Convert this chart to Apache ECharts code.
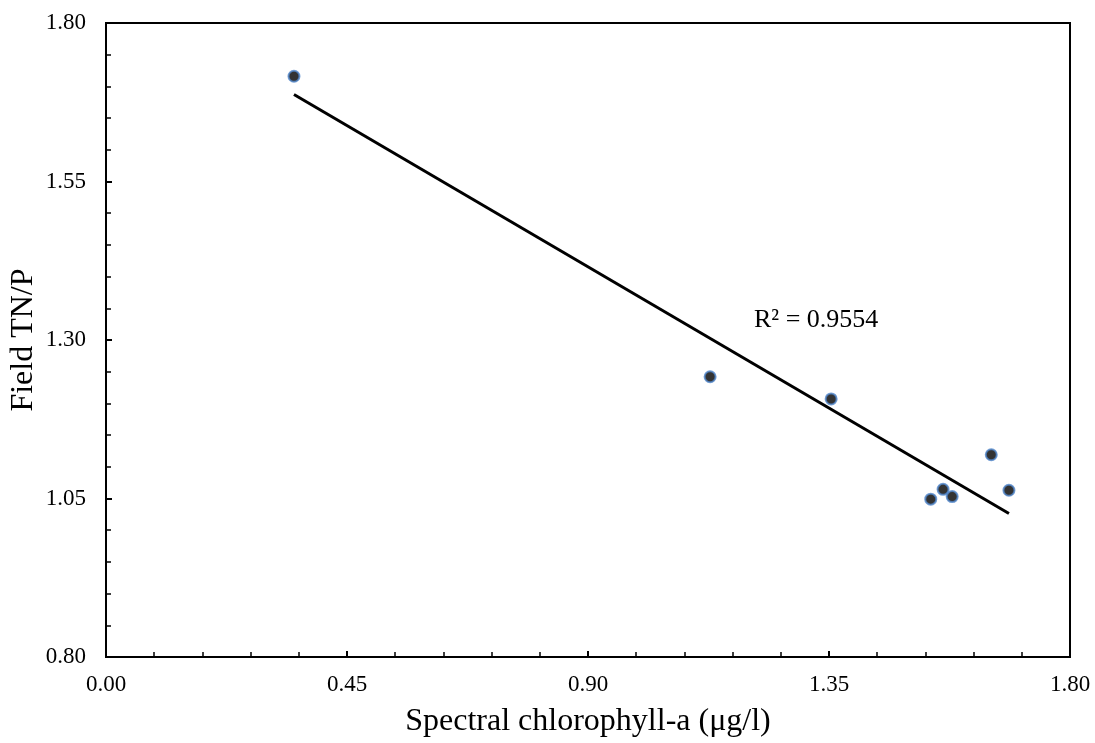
<!DOCTYPE html>
<html>
<head>
<meta charset="utf-8">
<script src="https://cdn.jsdelivr.net/npm/echarts@6/dist/echarts.min.js"></script>
<style>
  html, body { margin: 0; padding: 0; background: #fff; }
  #chart { width: 1095px; height: 743px; }
</style>
</head>
<body>
<div id="chart"></div>
<script>
// Spectral chlorophyll-a (µg/l) against field TN/P
const chlorophyll = [0.351, 1.128, 1.354, 1.540, 1.563, 1.580, 1.653, 1.686];
const fieldTNP    = [1.716, 1.242, 1.207, 1.049, 1.0645, 1.053, 1.119, 1.063];
const rSquaredText = 'R² = 0.9554';

// least-squares trend line through the samples
const n = chlorophyll.length;
const mx = chlorophyll.reduce((a, b) => a + b, 0) / n;
const my = fieldTNP.reduce((a, b) => a + b, 0) / n;
let sxy = 0, sxx = 0;
for (let i = 0; i < n; i++) {
  sxy += (chlorophyll[i] - mx) * (fieldTNP[i] - my);
  sxx += (chlorophyll[i] - mx) ** 2;
}
const slope = sxy / sxx;
const intercept = my - slope * mx;
const xMin = Math.min(...chlorophyll), xMax = Math.max(...chlorophyll);
const trend = [[xMin, intercept + slope * xMin], [xMax, intercept + slope * xMax]];

const font = 'Liberation Serif';
const chart = echarts.init(document.getElementById('chart'));
chart.setOption({
  animation: false,
  backgroundColor: '#fff',
  grid: {
    left: 106, top: 23, right: 25, bottom: 86,
    outerBoundsMode: 'none', containLabel: false,
    show: true, borderColor: '#000', borderWidth: 2, backgroundColor: 'transparent'
  },
  xAxis: {
    type: 'value', min: 0, max: 1.8, interval: 0.45,
    name: 'Spectral chlorophyll-a (μg/l)', nameLocation: 'middle', nameGap: 49,
    nameMoveOverlap: false,
    nameTextStyle: { fontFamily: font, fontSize: 32, color: '#000' },
    axisLine: { show: true, lineStyle: { color: '#000', width: 2 } },
    axisTick: { show: true, inside: true, length: 6, lineStyle: { color: '#000', width: 2 } },
    minorTick: { show: true, splitNumber: 5, length: 5, lineStyle: { color: '#000', width: 1.5 } },
    splitLine: { show: false },
    axisLabel: { fontFamily: font, fontSize: 23, color: '#000', margin: 16,
      formatter: v => v.toFixed(2) }
  },
  yAxis: {
    type: 'value', min: 0.8, max: 1.8, interval: 0.25,
    name: 'Field TN/P', nameLocation: 'middle', nameGap: 66,
    nameMoveOverlap: false,
    nameTextStyle: { fontFamily: font, fontSize: 32, color: '#000' },
    axisLine: { show: true, lineStyle: { color: '#000', width: 2 } },
    axisTick: { show: true, inside: true, length: 6, lineStyle: { color: '#000', width: 2 } },
    minorTick: { show: true, splitNumber: 5, length: 5, lineStyle: { color: '#000', width: 1.5 } },
    splitLine: { show: false },
    axisLabel: { fontFamily: font, fontSize: 23, color: '#000', margin: 20,
      formatter: v => v.toFixed(2) }
  },
  series: [
    {
      type: 'line',
      data: trend,
      symbol: 'none',
      lineStyle: { color: '#000', width: 3 },
      silent: true,
      z: 2
    },
    {
      type: 'scatter',
      data: chlorophyll.map((x, i) => [x, fieldTNP[i]]),
      symbol: 'circle',
      symbolSize: 11,
      itemStyle: { color: '#000', borderColor: '#4f84c9', borderWidth: 2 },
      z: 3
    }
  ],
  graphic: [{
    type: 'text',
    left: 754, top: 307,
    style: { text: rSquaredText, fontFamily: font, fontSize: 26, fill: '#000' }
  }]
});
</script>
</body>
</html>
